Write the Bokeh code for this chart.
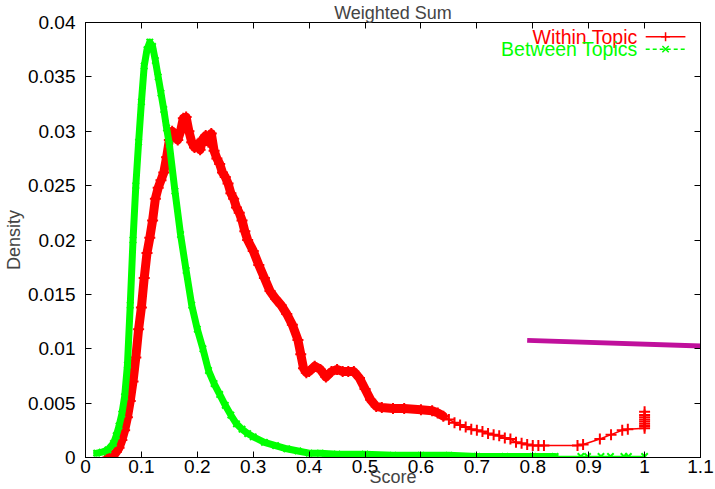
from bokeh.plotting import figure
from bokeh.models import LinearAxis, Range1d, Label, FixedTicker
from bokeh.embed import file_html
from bokeh.resources import INLINE

# ---------------- data ----------------
score_within = [0.04, 0.045, 0.05, 0.055, 0.06, 0.065, 0.07, 0.075, 0.08, 0.085,
                0.09, 0.095, 0.10, 0.105, 0.11, 0.115, 0.12, 0.125, 0.13, 0.135,
                0.14, 0.145, 0.15, 0.155, 0.16, 0.165, 0.17, 0.175, 0.18, 0.185,
                0.19, 0.195, 0.20, 0.205, 0.21, 0.215, 0.22, 0.225, 0.23, 0.235,
                0.24, 0.245, 0.25, 0.255, 0.26, 0.265, 0.27, 0.275, 0.28, 0.285,
                0.29, 0.30, 0.31, 0.32, 0.33, 0.34, 0.35, 0.36, 0.37, 0.38,
                0.385, 0.39, 0.395, 0.40, 0.41, 0.42, 0.43, 0.44, 0.45, 0.46,
                0.47, 0.48, 0.49, 0.50, 0.51, 0.52, 0.53, 0.55, 0.57, 0.60,
                0.62, 0.63, 0.64, 0.65, 0.66, 0.67, 0.68, 0.69, 0.70, 0.71,
                0.72, 0.73, 0.74, 0.75, 0.76, 0.77, 0.78, 0.79, 0.80, 0.81,
                0.82, 0.88, 0.89, 0.92, 0.94, 0.96, 0.97,
                1.0, 1.0, 1.0, 1.0, 1.0, 1.0, 1.0, 1.0]
density_within = [0.0000, 0.0001, 0.0002, 0.0005, 0.0009, 0.0016, 0.0025, 0.0037, 0.0052, 0.0070,
                  0.0092, 0.0118, 0.0138, 0.0165, 0.0188, 0.0202, 0.0218, 0.0238, 0.0248, 0.0255,
                  0.0262, 0.0276, 0.0292, 0.0300, 0.0297, 0.0292, 0.0300, 0.0312, 0.0313, 0.0300,
                  0.0290, 0.0285, 0.0288, 0.0283, 0.0293, 0.0296, 0.0290, 0.0298, 0.0282, 0.0275,
                  0.0270, 0.0262, 0.0258, 0.0252, 0.0243, 0.0238, 0.0230, 0.0225, 0.0218, 0.0208,
                  0.0200, 0.0190, 0.0177, 0.0165, 0.0153, 0.0146, 0.0140, 0.0132, 0.0122, 0.0108,
                  0.0095, 0.0082, 0.0078, 0.0079, 0.0084, 0.0081, 0.0074, 0.0079, 0.0081, 0.0079,
                  0.0079, 0.0079, 0.0073, 0.0063, 0.0053, 0.0047, 0.0046, 0.0045, 0.0045, 0.0044,
                  0.0043, 0.0041, 0.0038, 0.0035, 0.0032, 0.0030, 0.0028, 0.0026, 0.0025, 0.0024,
                  0.0022, 0.0021, 0.0020, 0.0018, 0.0017, 0.0014, 0.0013, 0.0012, 0.0011, 0.0011,
                  0.0011, 0.0011, 0.0012, 0.0017, 0.0021, 0.0025, 0.0026,
                  0.0027, 0.0029, 0.0031, 0.0033, 0.0035, 0.0037, 0.0039, 0.0042]

score_between = [0.02, 0.03, 0.04, 0.05, 0.055, 0.06, 0.065, 0.07, 0.075, 0.08,
                 0.085, 0.09, 0.095, 0.10, 0.105, 0.11, 0.115, 0.12, 0.125, 0.13,
                 0.135, 0.14, 0.145, 0.15, 0.16, 0.17, 0.18, 0.19, 0.20, 0.21,
                 0.22, 0.23, 0.24, 0.25, 0.26, 0.27, 0.28, 0.29, 0.30, 0.32,
                 0.34, 0.36, 0.38, 0.40, 0.42, 0.45, 0.50, 0.55, 0.60, 0.65,
                 0.70, 0.75, 0.80, 0.84, 0.886, 0.898, 0.922, 0.939, 0.963, 0.971, 1.0]
density_between = [0.0004, 0.0005, 0.0007, 0.0013, 0.0020, 0.0029, 0.0040, 0.0056, 0.0085, 0.0140,
                   0.0200, 0.0250, 0.0290, 0.0327, 0.0360, 0.0375, 0.0382, 0.0378, 0.0365, 0.0350,
                   0.0335, 0.0320, 0.0303, 0.0288, 0.0245, 0.0205, 0.0172, 0.0140, 0.0118, 0.0100,
                   0.0080, 0.0068, 0.0058, 0.0048, 0.0039, 0.0031, 0.0026, 0.0022, 0.0019, 0.0014,
                   0.0011, 0.0008, 0.0006, 0.0004, 0.0004, 0.0003, 0.0003, 0.0002, 0.0002, 0.0002,
                   0.0001, 0.0001, 0.0001, 0.0001, 0.0001, 0.0001, 0.0001, 0.0001, 0.0001, 0.0001, 0.0001]

stray_x = [0.79, 1.127]
stray_y = [0.01077, 0.0102]

x_ticks = [0, 0.1, 0.2, 0.3, 0.4, 0.5, 0.6, 0.7, 0.8, 0.9, 1.0, 1.1]
x_tick_labels = ["0", "0.1", "0.2", "0.3", "0.4", "0.5", "0.6", "0.7", "0.8", "0.9", "1", "1.1"]
y_ticks = [0, 0.005, 0.01, 0.015, 0.02, 0.025, 0.03, 0.035, 0.04]
y_tick_labels = ["0", "0.005", "0.01", "0.015", "0.02", "0.025", "0.03", "0.035", "0.04"]

series_names = ["Within Topic", "Between Topics"]
title_text = "Weighted Sum"
x_title = "Score"
y_title = "Density"

RED = "#ff0000"
GREEN = "#00ff00"
FONT = "Liberation Sans"
FS = "18px"
TICK_FS = "19px"
KEY_FS = "19.5px"

p = figure(width=715, height=489, x_range=Range1d(0, 1.1), y_range=Range1d(0, 0.04),
           output_backend="svg", toolbar_location=None,
           min_border_left=83, min_border_right=15, min_border_top=0, min_border_bottom=0)

p.title.text = title_text
p.title.align = "center"
p.title.text_font = FONT
p.title.text_font_size = FS
p.title.text_font_style = "normal"
p.title.standoff = 0
p.title.offset = 0

p.xgrid.visible = False
p.ygrid.visible = False
p.outline_line_color = "black"
p.outline_line_width = 1
p.background_fill_color = "white"
p.border_fill_color = "white"

def style_axis(ax, show_labels):
    ax.major_tick_in = 6
    ax.major_tick_out = 0
    ax.minor_tick_line_color = None
    ax.axis_line_color = "black"
    ax.major_tick_line_color = "black"
    ax.major_label_text_font = FONT
    if show_labels:
        ax.major_label_text_font_size = TICK_FS
        ax.major_label_text_color = "black"
    else:
        ax.major_label_text_font_size = "1px"
        ax.major_label_text_color = None
    ax.axis_label_text_font = FONT
    ax.axis_label_text_font_size = FS
    ax.axis_label_text_font_style = "normal"

xax = p.xaxis[0]
style_axis(xax, True)
xax.ticker = FixedTicker(ticks=x_ticks)
xax.major_label_overrides = {t: s for t, s in zip(x_ticks, x_tick_labels)}
xax.axis_label = x_title
xax.major_label_standoff = 2
xax.axis_label_standoff = -9

yax = p.yaxis[0]
style_axis(yax, True)
yax.ticker = FixedTicker(ticks=y_ticks)
yax.major_label_overrides = {t: s for t, s in zip(y_ticks, y_tick_labels)}
yax.axis_label = y_title
yax.major_label_standoff = 10
yax.axis_label_standoff = 1

top_ax = LinearAxis(ticker=FixedTicker(ticks=x_ticks))
style_axis(top_ax, False)
top_ax.major_label_standoff = 0
p.add_layout(top_ax, "above")
right_ax = LinearAxis(ticker=FixedTicker(ticks=y_ticks))
style_axis(right_ax, False)
right_ax.major_label_standoff = 0
p.add_layout(right_ax, "right")

# ---- Within Topic (red, "+" points) ----
wx_dense = [x for x in score_within if x <= 0.645]
wy_dense = density_within[:len(wx_dense)]
p.line(wx_dense, wy_dense, line_color=RED, line_width=9, line_join="round", line_cap="round")
p.line(score_within, density_within, line_color=RED, line_width=1.5)
p.scatter(score_within, density_within, marker="cross", size=11, line_color=RED, line_width=2)

# ---- Between Topics (green, "x" points) ----
bx_dense = [x for x in score_between if x <= 0.84]
by_dense = density_between[:len(bx_dense)]
p.line(bx_dense, by_dense, line_color=GREEN, line_width=7, line_join="round", line_cap="round")
p.line(score_between, density_between, line_color=GREEN, line_width=1.5)
p.scatter(score_between, density_between, marker="x", size=9, line_color=GREEN, line_width=2)

# ---- stray magenta stroke ----
p.line(stray_x, stray_y, line_color="#c0109c", line_width=5)

# ---- gnuplot-style key (text right-aligned, sample to the right) ----
key_text_x = 0.9875
key_x0, key_x1 = 1.002, 1.073
key_rows_y = [0.0387, 0.03755]
key_colors = [RED, GREEN]
key_markers = ["cross", "x"]
key_dash = ["solid", "4 3"]
for name, ky, col, mk, dash in zip(series_names, key_rows_y, key_colors, key_markers, key_dash):
    p.add_layout(Label(x=key_text_x, y=ky, text=name, text_align="right", text_baseline="middle",
                       text_color=col, text_font=FONT, text_font_size=KEY_FS))
    p.line([key_x0, key_x1], [ky, ky], line_color=col, line_width=1.5, line_dash=dash)
    p.scatter([(key_x0 + key_x1) / 2], [ky], marker=mk, size=9, line_color=col, line_width=1.5)

open("out.html", "w").write(file_html(p, INLINE))
